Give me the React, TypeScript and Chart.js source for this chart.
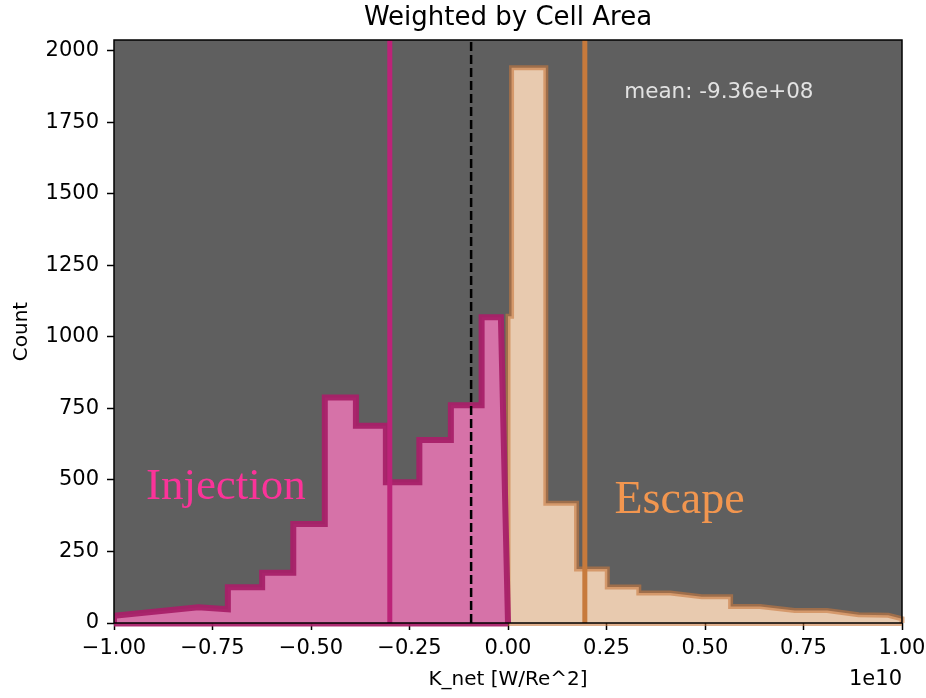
import React, { useEffect, useRef } from "react";
import { Chart, registerables } from "chart.js";

Chart.register(...registerables);

// Histogram outlines (K_net in units of 1e10, counts)
const injectionX = [-1, -1, -0.786, -0.711, -0.711, -0.624, -0.624, -0.545, -0.545, -0.465, -0.465, -0.386, -0.386, -0.31, -0.31, -0.225, -0.225, -0.145, -0.145, -0.067, -0.067, -0.018, 0];
const injectionY = [0, 25, 55, 48, 125, 125, 176, 176, 346, 346, 788, 788, 689, 689, 492, 492, 639, 639, 761, 761, 1068, 1068, 0];
const escapeX = [0, 0, 0.009, 0.009, 0.096, 0.096, 0.174, 0.174, 0.252, 0.252, 0.332, 0.332, 0.412, 0.492, 0.565, 0.565, 0.64, 0.728, 0.81, 0.89, 0.965, 1.0, 1.0];
const escapeY = [0, 1072, 1072, 1940, 1940, 418, 418, 189, 189, 126, 126, 105, 105, 92, 92, 58, 58, 44, 44, 29, 27, 15, 0];

const injectionThreshold = -0.3;
const escapeThreshold = 0.195;
const meanValue = -0.0936;
const meanLabel = "mean: -9.36e+08";

const xMin = -1;
const xMax = 1;
const yMax = 2037;
const xStep = 0.25;
const yStep = 250;

const titleText = "Weighted by Cell Area";
const xLabel = "K_net [W/Re^2]";
const yLabel = "Count";
const xOffsetLabel = "1e10";

// label anchors in data units
const meanPos = { x: 0.295, y: 1835 };
const injectionPos = { x: -0.919, y: 433 };
const escapePos = { x: 0.27, y: 385 };

const toPts = (xs: number[], ys: number[]) => xs.map((x, i) => ({ x, y: ys[i] }));
const vline = (x: number) => [{ x, y: 0 }, { x, y: yMax }];

const FONT = "'DejaVu Sans', sans-serif";

export default function App() {
  const ref = useRef<HTMLCanvasElement | null>(null);

  useEffect(() => {
    document.body.style.margin = "0";
    const canvas = ref.current;
    if (!canvas) return;

    const decor = {
      id: "decor",
      beforeDraw(chart: any) {
        const { ctx, chartArea: a } = chart;
        ctx.save();
        ctx.fillStyle = "#ffffff";
        ctx.fillRect(0, 0, chart.width, chart.height);
        ctx.fillStyle = "#5f5f5f";
        ctx.fillRect(a.left, a.top, a.right - a.left, a.bottom - a.top);
        ctx.restore();
      },
      afterDatasetsDraw(chart: any) {
        const { ctx, chartArea: a, scales } = chart;
        const xs = scales.x;
        const ys = scales.y;
        ctx.save();
        // spines
        ctx.strokeStyle = "#000";
        ctx.lineWidth = 1.5;
        ctx.strokeRect(a.left, a.top, a.right - a.left, a.bottom - a.top);

        // mean label
        ctx.fillStyle = "#e2e2e2";
        ctx.font = `21.5px ${FONT}`;
        ctx.textAlign = "left";
        ctx.textBaseline = "alphabetic";
        ctx.fillText(meanLabel, xs.getPixelForValue(meanPos.x), ys.getPixelForValue(meanPos.y));

        // region labels
        ctx.font = `45px 'Liberation Serif', serif`;
        ctx.fillStyle = "#fb3399";
        ctx.fillText("Injection", xs.getPixelForValue(injectionPos.x), ys.getPixelForValue(injectionPos.y));
        ctx.font = `46px 'Liberation Serif', serif`;
        ctx.fillStyle = "#f2964f";
        ctx.fillText("Escape", xs.getPixelForValue(escapePos.x), ys.getPixelForValue(escapePos.y));

        // title
        ctx.fillStyle = "#000";
        ctx.font = `26px ${FONT}`;
        ctx.textAlign = "center";
        ctx.fillText(titleText, (a.left + a.right) / 2, 25);

        // offset text
        ctx.font = `21px ${FONT}`;
        ctx.textAlign = "right";
        ctx.textBaseline = "middle";
        ctx.fillText(xOffsetLabel, a.right, 680);
        ctx.restore();
      },
    };

    const chart = new Chart(canvas, {
      type: "line",
      data: {
        datasets: [
          {
            data: toPts(injectionX, injectionY),
            borderColor: "rgba(168,32,104,0.95)",
            backgroundColor: "#d672a8",
            borderWidth: 6,
            fill: "origin",
            pointRadius: 0,
            tension: 0,
            borderJoinStyle: "miter",
            order: 5,
            clip: { left: 0, right: 4, top: 0, bottom: 8 },
          } as any,
          {
            data: [{ x: xMin, y: 0 }, { x: 0, y: 0 }],
            borderColor: "rgba(168,32,104,0.95)",
            borderWidth: 7,
            fill: false,
            pointRadius: 0,
            order: 5,
            clip: { left: 0, right: 4, top: 0, bottom: 8 },
          } as any,
          {
            data: toPts(escapeX, escapeY),
            borderColor: "rgba(200,120,62,0.6)",
            backgroundColor: "#e8caaf",
            borderWidth: 5,
            fill: "origin",
            pointRadius: 0,
            tension: 0,
            borderJoinStyle: "miter",
            order: 6,
            clip: { left: 4, right: 4, top: 0, bottom: 8 },
          } as any,
          {
            data: [{ x: 0, y: 0 }, { x: xMax, y: 0 }],
            borderColor: "rgba(200,120,62,0.6)",
            borderWidth: 6,
            fill: false,
            pointRadius: 0,
            order: 6,
            clip: { left: 4, right: 4, top: 0, bottom: 8 },
          } as any,
          {
            data: vline(injectionThreshold),
            borderColor: "#bc2378",
            borderWidth: 5,
            fill: false,
            pointRadius: 0,
            order: 3,
          } as any,
          {
            data: vline(escapeThreshold),
            borderColor: "#c77a3c",
            borderWidth: 5,
            fill: false,
            pointRadius: 0,
            order: 2,
          } as any,
          {
            data: vline(meanValue),
            borderColor: "#000000",
            borderWidth: 2.5,
            borderDash: [9, 4],
            fill: false,
            pointRadius: 0,
            order: 0,
          } as any,
        ],
      },
      options: {
        responsive: false,
        animation: false,
        events: [],
        layout: { padding: { left: 0, top: 40, right: 24, bottom: 0 } },
        plugins: {
          legend: { display: false },
          tooltip: { enabled: false },
          title: { display: false },
        },
        scales: {
          x: {
            type: "linear",
            min: xMin,
            max: xMax,
            afterFit: (s: any) => {
              s.height = 75;
              s.paddingLeft = 0;
              s.paddingRight = 0;
            },
            afterBuildTicks: (s: any) => {
              const t: any[] = [];
              for (let v = xMin; v <= xMax + 1e-9; v += xStep) t.push({ value: Math.round(v * 100) / 100 });
              s.ticks = t;
            },
            ticks: {
              font: { family: FONT, size: 21 },
              color: "#000",
              padding: 6,
              maxRotation: 0,
              autoSkip: false,
              callback: (v: any) => {
                const n = Number(v);
                return (n < 0 ? "\u2212" : "") + Math.abs(n).toFixed(2);
              },
            },
            grid: {
              drawOnChartArea: false,
              drawTicks: true,
              tickLength: 7,
              tickColor: "#000",
              tickWidth: 1.5,
            } as any,
            border: { display: false },
            title: {
              display: true,
              text: xLabel,
              font: { family: FONT, size: 20 },
              color: "#000",
              padding: { top: 0, bottom: 6 },
            },
          },
          y: {
            type: "linear",
            min: 0,
            max: yMax,
            afterFit: (s: any) => {
              s.width = 114;
              s.paddingTop = 0;
              s.paddingBottom = 0;
            },
            afterBuildTicks: (s: any) => {
              const t: any[] = [];
              for (let v = 0; v <= yMax; v += yStep) t.push({ value: v });
              s.ticks = t;
            },
            ticks: {
              font: { family: FONT, size: 21 },
              color: "#000",
              padding: 8,
              autoSkip: false,
              callback: (v: any) => String(v),
            },
            grid: {
              drawOnChartArea: false,
              drawTicks: true,
              tickLength: 7,
              tickColor: "#000",
              tickWidth: 1.5,
            } as any,
            border: { display: false },
            title: {
              display: true,
              text: yLabel,
              font: { family: FONT, size: 20 },
              color: "#000",
              padding: { top: 10, bottom: 0 },
            },
          },
        },
      },
      plugins: [decor],
    } as any);

    return () => chart.destroy();
  }, []);

  return (
    <div style={{ width: 926, height: 698 }}>
      <canvas ref={ref} width={926} height={698} style={{ display: "block" }} />
    </div>
  );
}
